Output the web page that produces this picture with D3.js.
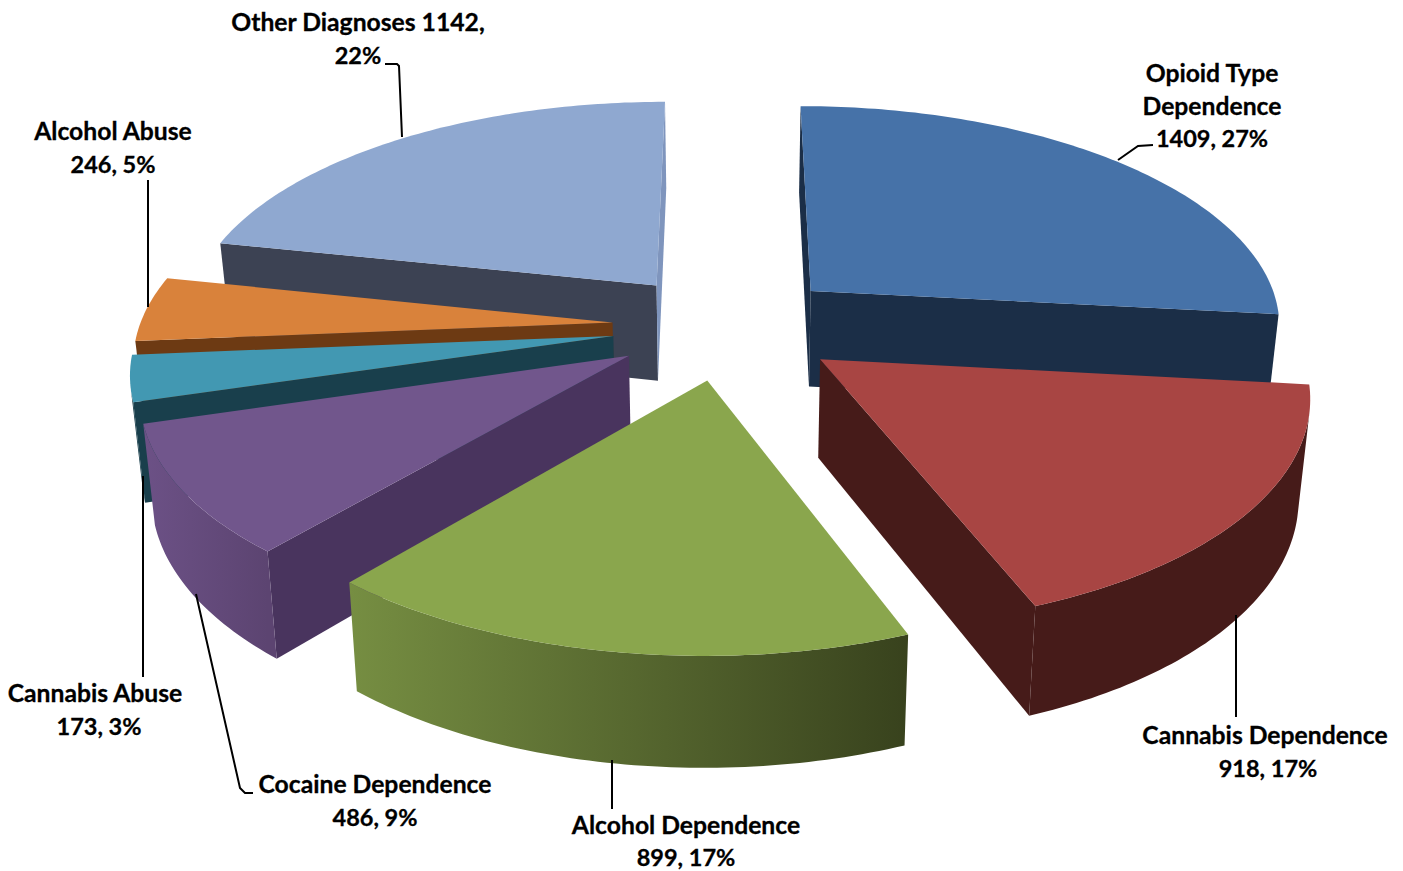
<!DOCTYPE html>
<html>
<head>
<meta charset="utf-8">
<script src="https://cdn.jsdelivr.net/npm/d3@7"></script>
<style>
    body { margin: 0; background: #fff; }
    text { font-family: Lato, "Open Sans", sans-serif; font-weight: 700; font-size: 24.7px; fill: #000; stroke: #000; stroke-width: 0.3px; text-anchor: middle; }
    text.num { font-size: 23.5px; }
</style>
</head>
<body>
<svg width="1403" height="871"></svg>
<script>
// values
const categories = ['Opioid Type Dependence', 'Cannabis Dependence', 'Alcohol Dependence', 'Cocaine Dependence', 'Cannabis Abuse', 'Alcohol Abuse', 'Other Diagnoses'];
const counts = [1409, 918, 899, 486, 173, 246, 1142];
const percents = [27, 17, 17, 9, 3, 5, 22];

// styles, same order as categories
const topColors = ['#4672a8', '#a84543', '#8aa64d', '#71568c', '#4298b2', '#d9823b', '#8fa8d0'];
const wallColors = ['#1b2e47', '#461b19', '#55672f', '#49345e', '#193f4c', '#6d3a13', '#3c4253'];
const endWallColors = ['#1b2e47', '#461b19', '#55672f', '#49345e', '#193f4c', '#6d3a13', '#7f95bd'];
const outerLight = ['#1b2e47', '#461b19', '#768e42', '#6c5186', '#193f4c', '#6d3a13', '#3c4253'];
const outerDark = ['#1b2e47', '#461b19', '#38421d', '#5c4471', '#193f4c', '#6d3a13', '#3c4253'];

// back to front
const drawOrder = [6, 5, 4, 3, 2, 0, 1];

const svg = d3.select('svg');
const defs = svg.append('defs');

// pie plane to screen
const cx = 727, cy = 326;
const radius = 473, tilt = 0.465, perspective = 0.14;
const explode = 0.243, depth = 97, bottomShrink = 0.98;

const planeX = d3.scaleLinear().domain([-1, 1]).range([-radius, radius]);
const planeY = d3.scaleLinear().domain([-1, 1]).range([-radius * tilt, radius * tilt]);

function project(u, v, down) {
    const s = 1 / (1 - perspective * v);
    const x = planeX(u) * s;
    const y = planeY(v) * s;
    if (!down) return [cx + x, cy + y];
    return [cx + x * bottomShrink, cy + y + depth * Math.pow(s, 0.75)];
}

const slices = d3.pie().sort(null)(counts);

// only the faces turned to the viewer have positive area
const facesViewer = (a, b) => d3.polygonArea([a.top, b.top, b.bottom, a.bottom]) > 0;

function drawWall(g, a, b, color) {
    if (!facesViewer(a, b)) return;
    g.append('path')
        .attr('d', d3.line()([a.top, b.top, b.bottom, a.bottom]) + 'Z')
        .attr('fill', color);
}

drawOrder.forEach(i => {
    const d = slices[i];
    const mid = (d.startAngle + d.endAngle) / 2;
    const ou = explode * Math.sin(mid), ov = -explode * Math.cos(mid);

    const vertex = (u, v) => ({ top: project(u + ou, v + ov, false), bottom: project(u + ou, v + ov, true) });

    const apex = vertex(0, 0);
    const steps = Math.max(6, Math.ceil((d.endAngle - d.startAngle) * 60));
    const rim = d3.range(steps + 1).map(k => {
        const a = d.startAngle + (d.endAngle - d.startAngle) * k / steps;
        return vertex(Math.sin(a), -Math.cos(a));
    });

    const g = svg.append('g').attr('class', 'slice');

    drawWall(g, apex, rim[0], wallColors[i]);
    drawWall(g, rim[steps], apex, endWallColors[i]);

    // outer wall as one shape with a left to right shade
    const [x0, x1] = d3.extent(rim, p => p.top[0]);
    const grad = defs.append('linearGradient')
        .attr('id', `outer-${i}`)
        .attr('gradientUnits', 'userSpaceOnUse')
        .attr('x1', x0).attr('x2', x1)
        .attr('y1', 0).attr('y2', 0);
    grad.append('stop').attr('offset', 0).attr('stop-color', outerLight[i]);
    grad.append('stop').attr('offset', 1).attr('stop-color', outerDark[i]);

    const visible = d3.pairs(rim).filter(([a, b]) => facesViewer(a, b));
    if (visible.length) {
        const run = [visible[0][0], ...visible.map(p => p[1])];
        g.append('path')
            .attr('d', d3.line()([...run.map(p => p.top), ...run.reverse().map(p => p.bottom)]) + 'Z')
            .attr('fill', `url(#outer-${i})`);
    }

    g.append('path')
        .attr('d', d3.line()([apex.top, ...rim.map(p => p.top)]) + 'Z')
        .attr('fill', topColors[i]);
});

// leader lines
const leaders = [
    [[385, 64], [397, 64], [399, 66], [402, 137]],
    [[1153, 145], [1138, 146], [1118, 160]],
    [[148, 180], [148, 307]],
    [[143, 476], [143, 677]],
    [[196, 594], [240, 788], [245, 793], [253, 793]],
    [[612, 760], [612, 809]],
    [[1236, 615], [1236, 717]]
];
svg.selectAll('.leader')
    .data(leaders)
    .enter().append('path')
    .attr('class', 'leader')
    .attr('d', d3.line())
    .attr('fill', 'none')
    .attr('stroke', '#000')
    .attr('stroke-width', 2);

// labels
const labels = [
    { x: 1212, y: 82, t: 'Opioid Type' },
    { x: 1212, y: 115, t: 'Dependence' },
    { x: 1212, y: 147, t: `${counts[0]}, ${percents[0]}%`, num: true },
    { x: 1265, y: 744, t: categories[1] },
    { x: 1268, y: 777, t: `${counts[1]}, ${percents[1]}%`, num: true },
    { x: 686, y: 834, t: categories[2] },
    { x: 686, y: 866, t: `${counts[2]}, ${percents[2]}%`, num: true },
    { x: 375, y: 793, t: categories[3] },
    { x: 375, y: 826, t: `${counts[3]}, ${percents[3]}%`, num: true },
    { x: 95, y: 702, t: categories[4] },
    { x: 99, y: 735, t: `${counts[4]}, ${percents[4]}%`, num: true },
    { x: 113, y: 140, t: categories[5] },
    { x: 113, y: 173, t: `${counts[5]}, ${percents[5]}%`, num: true },
    { x: 358, y: 31, t: `${categories[6]} ${counts[6]},` },
    { x: 358, y: 64, t: `${percents[6]}%`, num: true }
];
svg.selectAll('.label')
    .data(labels)
    .enter().append('text')
    .attr('class', d => d.num ? 'label num' : 'label')
    .attr('x', d => d.x)
    .attr('y', d => d.y)
    .text(d => d.t);
</script>
</body>
</html>
